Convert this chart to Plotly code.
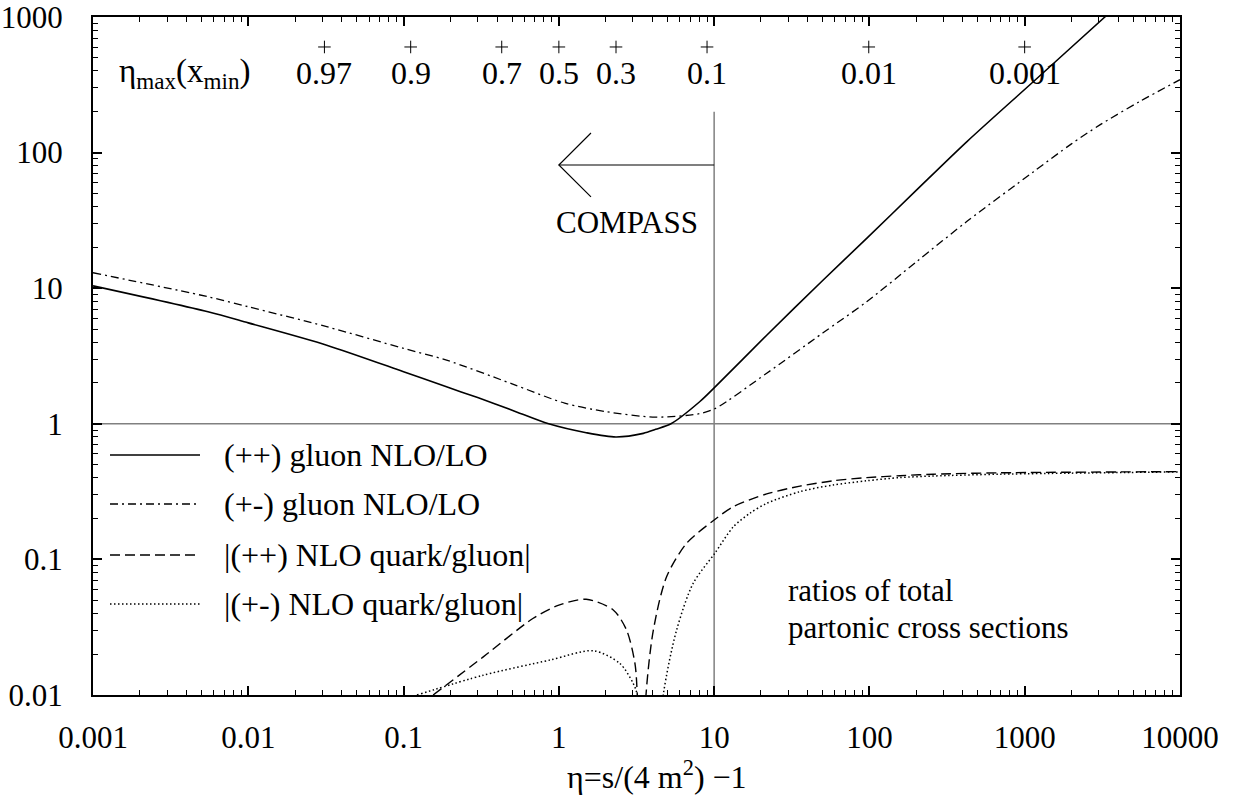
import math
import plotly.graph_objects as go

# ---------------- data ----------------
eta_gpp = [0.001, 0.0055, 0.01, 0.032, 0.1, 0.187, 0.3, 0.5, 0.86, 1.5, 2.33, 3.5, 4.2, 5.27,
           8.1, 10, 21.8, 50, 96, 200, 423, 1135, 3283, 4000]
r_gpp = [10.4, 6.7, 5.55, 3.8, 2.42, 1.88, 1.56, 1.26, 1.0, 0.86, 0.80, 0.85, 0.91, 1.0,
         1.46, 1.84, 4.5, 11.4, 23.3, 52.6, 120, 333, 1000, 1220]

eta_gpm = [0.001, 0.0055, 0.01, 0.032, 0.1, 0.187, 0.5, 1.09, 2.0, 4.18, 8.1, 10.2,
           21.8, 50, 96, 200, 423, 1135, 2000, 3048, 5500, 10000]
r_gpm = [13.0, 8.65, 7.3, 5.2, 3.6, 2.96, 1.97, 1.42, 1.23, 1.12, 1.19, 1.3,
         2.36, 4.67, 7.95, 15.6, 31, 72, 116, 160, 238, 345]

eta_qpp = [0.155, 0.326, 0.684, 1.0, 1.5, 2.24, 2.73, 3.09, 3.2, 3.4, 3.64, 4.06, 4.94,
           6.65, 10.1, 13.3, 21.8, 35.7, 58.5, 96, 157, 258, 692, 10000]
r_qpp = [0.01, 0.0191, 0.0368, 0.046, 0.0508, 0.0424, 0.0301, 0.0171, 0.01, 0.001, 0.01,
         0.0301, 0.0745, 0.1315, 0.197, 0.245, 0.304, 0.347, 0.380, 0.401, 0.414, 0.425,
         0.435, 0.444]

eta_qpm = [0.122, 0.326, 0.877, 1.67, 2.47, 3.01, 3.2, 3.9, 4.7, 5.73, 7.33, 10.1, 13.3,
           17, 21.8, 35.7, 58.5, 96, 157, 258, 692, 10000]
r_qpm = [0.01, 0.014, 0.0181, 0.0212, 0.0171, 0.0122, 0.01, 0.001, 0.01, 0.0301, 0.0667,
         0.111, 0.174, 0.219, 0.259, 0.316, 0.354, 0.380, 0.401, 0.412, 0.425, 0.442]

# top scale: x_min values, eta_max = 1/x_min - 1
x_min_labels = ["0.97", "0.9", "0.7", "0.5", "0.3", "0.1", "0.01", "0.001"]
x_min_values = [0.97, 0.9, 0.7, 0.5, 0.3, 0.1, 0.01, 0.001]

x_tickvals = [0.001, 0.01, 0.1, 1, 10, 100, 1000, 10000]
x_ticktext = ["0.001", "0.01", "0.1", "1", "10", "100", "1000", "10000"]
y_tickvals = [0.01, 0.1, 1, 10, 100, 1000]
y_ticktext = ["0.01", "0.1", "1", "10", "100", "1000"]

compass_eta = 10
compass_top = 200
arrow_y = 81
arrow_tip_eta = 1.0
arrow_head_eta = 1.61
arrow_head_y = [139.5, 47.1]

legend_names = ["(++) gluon NLO/LO", "(+-) gluon NLO/LO",
                "|(++) NLO quark/gluon|", "|(+-) NLO quark/gluon|"]

FONT = "Liberation Serif, Times New Roman, serif"

styles = [
    dict(color="black", width=1.6, dash="solid"),
    dict(color="black", width=1.3, dash="8px,4px,2px,4px"),
    dict(color="black", width=1.4, dash="10px,5px"),
    dict(color="black", width=1.5, dash="1.5px,2.5px"),
]

# pixel -> paper helpers (plot area: x 93..1180, y 17..695)
def px(xp):
    return (xp - 93) / 1087.0

def py(yp):
    return (695 - yp) / 678.0

fig = go.Figure()

# reference lines
fig.add_trace(go.Scatter(x=[x_tickvals[0], x_tickvals[-1]], y=[1, 1], mode="lines",
                         line=dict(color="#808080", width=1.5), hoverinfo="skip", showlegend=False))
fig.add_trace(go.Scatter(x=[compass_eta, compass_eta], y=[compass_top, y_tickvals[0]], mode="lines",
                         line=dict(color="#808080", width=1.5), hoverinfo="skip", showlegend=False))
# arrow
fig.add_trace(go.Scatter(x=[compass_eta, arrow_tip_eta], y=[arrow_y, arrow_y], mode="lines",
                         line=dict(color="black", width=1.2), hoverinfo="skip", showlegend=False))
fig.add_trace(go.Scatter(x=[arrow_head_eta, arrow_tip_eta, arrow_head_eta],
                         y=[arrow_head_y[0], arrow_y, arrow_head_y[1]], mode="lines",
                         line=dict(color="black", width=1.2), hoverinfo="skip", showlegend=False))

series = [(eta_gpp, r_gpp), (eta_gpm, r_gpm), (eta_qpp, r_qpp), (eta_qpm, r_qpm)]
for (xs, ys), st, name in zip(series, styles, legend_names):
    fig.add_trace(go.Scatter(x=xs, y=ys, mode="lines", name=name,
                             line=dict(color=st["color"], width=st["width"], dash=st["dash"],
                                       shape="spline", smoothing=0.8),
                             showlegend=False))

# top eta_max markers
eta_max = [1.0 / v - 1.0 for v in x_min_values]
fig.add_trace(go.Scatter(x=eta_max, y=[601] * len(eta_max), mode="markers",
                         marker=dict(symbol="cross-thin", size=9, line=dict(color="black", width=1)),
                         hoverinfo="skip", showlegend=False, cliponaxis=False))

annotations = []
for lab, e in zip(x_min_labels, eta_max):
    annotations.append(dict(x=math.log10(e), y=math.log10(386), xref="x", yref="y", text=lab,
                            showarrow=False, font=dict(family=FONT, size=32, color="black"),
                            xanchor="center", yanchor="middle"))
annotations.append(dict(x=px(117), y=math.log10(386), xref="paper", yref="y",
                        text="η<sub>max</sub>(x<sub>min</sub>)", showarrow=False,
                        font=dict(family=FONT, size=33, color="black"),
                        xanchor="left", yanchor="middle"))
annotations.append(dict(x=px(627), y=py(222), xref="paper", yref="paper", text="COMPASS",
                        showarrow=False, font=dict(family=FONT, size=31, color="black"),
                        xanchor="center", yanchor="middle"))
annotations.append(dict(x=px(786), y=py(590), xref="paper", yref="paper",
                        text="ratios of total", showarrow=False,
                        font=dict(family=FONT, size=31, color="black"),
                        xanchor="left", yanchor="middle"))
annotations.append(dict(x=px(786), y=py(627), xref="paper", yref="paper",
                        text="partonic cross sections", showarrow=False,
                        font=dict(family=FONT, size=31, color="black"),
                        xanchor="left", yanchor="middle"))
annotations.append(dict(x=px(657), y=py(775), xref="paper", yref="paper",
                        text="η=s/(4 m<sup>2</sup>) −1", showarrow=False,
                        font=dict(family=FONT, size=32, color="black"),
                        xanchor="center", yanchor="middle"))

# manual legend
shapes = []
rows_py = [455, 504, 555, 604]
for name, st, rp in zip(legend_names, styles, rows_py):
    yp = py(rp)
    shapes.append(dict(type="line", xref="paper", yref="paper",
                       x0=px(110), x1=px(200), y0=yp, y1=yp,
                       line=dict(color=st["color"], width=st["width"], dash=st["dash"])))
    annotations.append(dict(x=px(222), y=yp, xref="paper", yref="paper", text=name,
                            showarrow=False, font=dict(family=FONT, size=32, color="black"),
                            xanchor="left", yanchor="middle"))

axis_common = dict(showline=True, linecolor="black", linewidth=2, mirror="allticks",
                   ticks="inside", ticklen=9, tickwidth=1.5, tickcolor="black",
                   showgrid=False, zeroline=False, automargin=False,
                   ticklabeloverflow="allow",
                   tickfont=dict(family=FONT, size=31, color="black"),
                   minor=dict(ticks="inside", ticklen=5, tickwidth=1.2, tickcolor="black",
                              showgrid=False, dtick="D1"))

fig.update_xaxes(type="log", range=[-3, 4], tickvals=x_tickvals, ticktext=x_ticktext,
                 ticklabelstandoff=14, **axis_common)
fig.update_yaxes(type="log", range=[-2, 3], tickvals=y_tickvals, ticktext=y_ticktext,
                 ticklabelstandoff=22, **axis_common)

fig.update_layout(width=1238, height=803, margin=dict(l=93, r=58, t=17, b=108),
                  plot_bgcolor="white", paper_bgcolor="white",
                  annotations=annotations, shapes=shapes, showlegend=False,
                  font=dict(family=FONT, size=31, color="black"))

fig.write_html("out.html")
